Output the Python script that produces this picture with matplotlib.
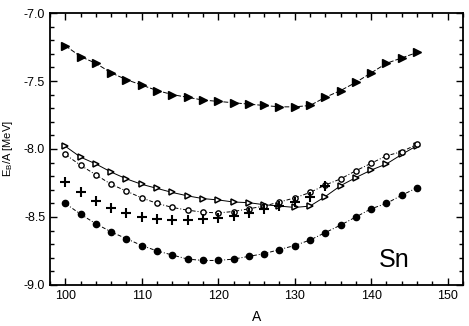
import matplotlib
matplotlib.use("Agg")
import matplotlib.pyplot as plt
from matplotlib.ticker import MultipleLocator

plt.rcParams['font.family'] = ['Liberation Sans', 'DejaVu Sans']

A = list(range(100, 148, 2))
tri_filled = [-7.24, -7.32, -7.37, -7.44, -7.49, -7.53, -7.57, -7.60, -7.62, -7.64, -7.65, -7.66,
              -7.67, -7.68, -7.69, -7.69, -7.68, -7.62, -7.57, -7.51, -7.44, -7.37, -7.33, -7.29]
tri_open = [-7.98, -8.06, -8.11, -8.17, -8.22, -8.26, -8.29, -8.32, -8.345, -8.365, -8.375, -8.39,
            -8.395, -8.41, -8.42, -8.43, -8.42, -8.35, -8.27, -8.21, -8.155, -8.11, -8.04, -7.975]
circ_open = [-8.04, -8.12, -8.19, -8.26, -8.31, -8.36, -8.40, -8.43, -8.45, -8.465, -8.47, -8.46,
             -8.44, -8.42, -8.39, -8.36, -8.32, -8.265, -8.22, -8.16, -8.105, -8.05, -8.02, -7.965]
circ_filled = [-8.40, -8.48, -8.55, -8.61, -8.66, -8.71, -8.75, -8.78, -8.81, -8.82, -8.82, -8.81,
               -8.79, -8.77, -8.74, -8.71, -8.67, -8.615, -8.56, -8.50, -8.44, -8.40, -8.34, -8.285]
A_plus = list(range(100, 136, 2))
plus = [-8.245, -8.32, -8.38, -8.435, -8.47, -8.50, -8.515, -8.52, -8.52, -8.515, -8.505, -8.49,
        -8.47, -8.44, -8.42, -8.39, -8.35, -8.27]

fig = plt.figure(figsize=(4.69, 3.26), dpi=100)
ax = fig.add_axes([0.1066, 0.126, 0.8805, 0.834])

ax.plot(A, tri_filled, color='black', ls=(0, (5, 2)), lw=0.7, marker='>', ms=5.5, mfc='black', mec='black')
ax.plot(A, tri_open, color='black', ls='-', lw=0.7, marker='>', ms=4.5, mfc='white', mec='black', mew=1.1)
ax.plot(A, circ_open, color='black', ls=(0, (4, 2, 1, 2)), lw=0.7, marker='o', ms=3.8, mfc='white', mec='black', mew=1.0)
ax.plot(A, circ_filled, color='black', ls=(0, (4, 2, 1, 2)), lw=0.7, marker='o', ms=4.5, mfc='black', mec='black')
ax.plot(A_plus, plus, ls='none', marker='+', ms=7.5, mew=1.5, color='black')

ax.set_xlim(98, 152)
ax.set_ylim(-9.0, -7.0)
ax.xaxis.set_major_locator(MultipleLocator(10))
ax.xaxis.set_minor_locator(MultipleLocator(2))
ax.yaxis.set_major_locator(MultipleLocator(0.5))
ax.yaxis.set_minor_locator(MultipleLocator(0.1))
ax.yaxis.set_major_formatter(matplotlib.ticker.FormatStrFormatter('%.1f'))
ax.tick_params(which='both', direction='in', top=True, right=True, labelsize=9, width=1.0)
ax.tick_params(which='major', length=5)
ax.tick_params(which='minor', length=3)
for s in ax.spines.values():
    s.set_linewidth(1.3)

ax.set_xlabel('A', fontsize=10, labelpad=6)
ax.set_ylabel(r'E$_\mathregular{B}$/A [MeV]', fontsize=8, labelpad=6)
ax.text(143, -8.82, 'Sn', fontsize=18, ha='center', va='center')

fig.savefig('out.png', dpi=100)
